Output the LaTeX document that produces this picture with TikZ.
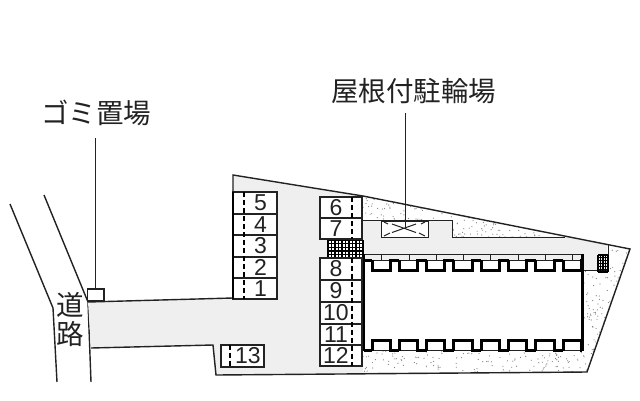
\documentclass[tikz,border=0pt]{standalone}
\usepackage{fontspec}
\setmainfont{Liberation Sans}
\newfontfamily\jpfont{Noto Sans CJK JP}
\definecolor{sitegray}{HTML}{EFEFEF}
\definecolor{inkgray}{HTML}{222222}
\tikzset{
  outline/.style={draw=inkgray,line width=1.4pt},
  thinline/.style={draw=inkgray,line width=1pt},
  wall/.style={draw=black,line width=3pt,line cap=square},
  parkline/.style={draw=black,line width=2pt,dash pattern=on 5pt off 3pt},
  parkbox/.style={draw=inkgray,line width=1.2pt,fill=white},
  parknum/.style={font=\fontsize{23}{23}\selectfont,text=inkgray,inner sep=0pt},
  jplabel/.style={font=\jpfont\fontsize{27.5}{27.5}\selectfont,text=inkgray,inner sep=0pt},
}
\begin{document}
\begin{tikzpicture}[x=1pt,y=-1pt]
    \useasboundingbox (0,0) rectangle (640,400);
    % road
    \draw[outline] (10,204) -- (53,308) -- (57,382);
    \draw[outline] (44,195) -- (88,302) -- (91,382);
    % site
    \fill[sitegray] (233,175) -- (363,196) -- (607,245) -- (608,270) -- (587,372)
        -- (216,375) -- (213,345) -- (91,348) -- (88,302) -- (233,298) -- cycle;
    % planted areas
    \fill[white] (363,196) -- (565,236.5) -- (452,237) -- (452,220) -- (363,220) -- cycle;
    \fill[white] (608,245) -- (630,249) -- (587,372) -- (363,372) -- (363,350) -- (583,350)
        -- (583,270) -- (608,270) -- cycle;
    \begin{scope}
        \clip (363,196) -- (565,236.5) -- (452,237) -- (452,220) -- (363,220) -- cycle
              (608,245) -- (630,249) -- (587,372) -- (363,372) -- (363,350) -- (583,350)
              -- (583,270) -- (608,270) -- cycle;
        \pgfmathsetseed{11}
        \foreach \i in {1,...,1500} {
            \pgfmathsetmacro{\dotx}{363+267*rnd}
            \pgfmathsetmacro{\doty}{196+176*rnd}
            \fill[gray] (\dotx,\doty) circle (0.6);
        }
    \end{scope}
    \draw[outline] (91,348) -- (213,345) -- (216,375) -- (587,372) -- (630,249)
        -- (363,196) -- (233,175) -- (233,298) -- (88,302);
    \draw[thinline] (363,220) -- (452,220) -- (452,237) -- (565,237);
    \draw[thinline] (608,245) -- (608,270) -- (583,270);
    % bicycle shelter
    \draw[thinline,fill=white] (381,221) rectangle (428,237);
    \draw[thinline] (392,224) -- (416,232.5) (392,232.5) -- (416,224);
    \draw[thinline] (384,222) -- (388,224) (425,222) -- (421,224)
        (384,236) -- (390,233) (425,236) -- (419,233);
    % meter grids
    \fill[white] (328,240) rectangle (363,258);
    \foreach \i in {0,...,10}
        \draw[black,line width=1.4pt] ({328+3.5*\i},240) -- ({328+3.5*\i},258);
    \foreach \i in {0,...,5}
        \draw[black,line width=1.4pt] (328,{240+3.6*\i}) -- (363,{240+3.6*\i});
    \foreach \i in {0,...,4}
        \draw[black,line width=1.1pt] ({598+2.5*\i},255) -- ({598+2.5*\i},272);
    \foreach \i in {0,...,6}
        \draw[black,line width=1.1pt] (598,{255+2.83*\i}) -- (608,{255+2.83*\i});
    % building
    \fill[white] (363.5,260) rectangle (582,350.5);
    \draw[thinline] (363.5,254) -- (582,254);
    \draw[thinline] (363.5,260) -- (582,260);
    \draw[thinline] (363.5,350.5) -- (582,350.5);
    \draw[wall] (363.5,254) -- (363.5,351);
    \draw[wall] (582,254) -- (582,351);
    \draw[wall] (363.5,260) -- (372,260);
    \draw[wall] (363.5,350.5) -- (372,350.5);
    \foreach \i in {0,...,7} {
        \pgfmathsetmacro{\lowa}{372+27.3*\i}
        \pgfmathsetmacro{\lowb}{\lowa+18.3}
        \pgfmathsetmacro{\next}{min(\lowa+27.3,582)}
        \pgfmathsetmacro{\tick}{\lowa+9.7}
        \draw[wall] (\lowa,260) -- (\lowa,270) -- (\lowb,270) -- (\lowb,260) -- (\next,260);
        \draw[wall] (\lowa,350.5) -- (\lowa,340.5) -- (\lowb,340.5) -- (\lowb,350.5) -- (\next,350.5);
        \draw[thinline] (\tick,254) -- (\tick,260);
    }
    % parking
    \foreach \n/\ya/\yb in {5/192/214,4/214/235,3/235/257,2/257/278,1/278/299} {
        \draw[parkbox] (233,\ya) rectangle (277,\yb);
        \node[parknum] (park\n) at (260.5,{(\ya+\yb)/2}) {\n};
    }
    \draw[draw=black,line width=2.2pt] (233,192) -- (233,299);
    \draw[parkline] (244,192) -- (244,299);
    \foreach \n/\ya/\yb in {6/197/218,7/218/239,8/258/280,9/280/302,10/302/324,11/324/345,12/345/366} {
        \draw[parkbox] (320,\ya) rectangle (362,\yb);
        \node[parknum] (park\n) at (336,{(\ya+\yb)/2}) {\n};
    }
    \draw[parkline] (352,197) -- (352,239);
    \draw[parkline] (352,258) -- (352,366);
    \draw[parkbox] (221,345) rectangle (264,367);
    \node[parknum] (park13) at (248,356) {13};
    \draw[parkline] (230,345) -- (230,367);
    % labels
    \draw[outline,fill=white] (87.5,289) rectangle (104,301);
    \node[jplabel] (trashlabel) at (96,113) {ゴミ置場};
    \node[jplabel] (shelterlabel) at (413.5,91) {屋根付駐輪場};
    \node[jplabel] (roadlabela) at (70,305) {道};
    \node[jplabel] (roadlabelb) at (70,334) {路};
    \coordinate (trashtop) at (95,138);
    \coordinate (trashend) at (95,289);
    \coordinate (sheltertop) at (405,113);
    \coordinate (shelterend) at (405,228);
    \draw[thinline] (trashtop) -- (trashend);
    \draw[thinline] (sheltertop) -- (shelterend);
\end{tikzpicture}
\end{document}
